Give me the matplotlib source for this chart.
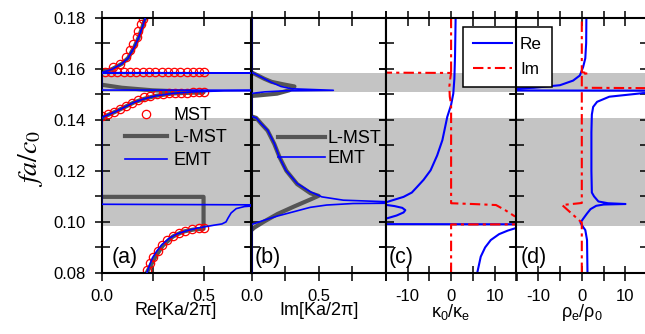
import numpy as np
import matplotlib
matplotlib.use('Agg')
import matplotlib.pyplot as plt
from matplotlib.lines import Line2D
from matplotlib.ticker import MultipleLocator, FuncFormatter

plt.rcParams['font.family'] = ['Liberation Sans', 'DejaVu Sans']
plt.rcParams['mathtext.fontset'] = 'stix'

NaN = np.nan

# ---------------- data ----------------
gap_bands = [(0.0985, 0.1405), (0.1507, 0.1581)]

# (a) Re[Ka/2pi]
a_mst_re = [0.221, 0.238, 0.254, 0.276, 0.295, 0.320, 0.348, 0.378, 0.411, 0.444, 0.477, 0.502,
            0.0, 0.03, 0.06, 0.09, 0.12, 0.15, 0.18, 0.21, 0.24, 0.27, 0.30, 0.33, 0.36, 0.39, 0.42, 0.45, 0.48, 0.50,
            0.015, 0.046, 0.077, 0.108, 0.139, 0.170, 0.201, 0.232, 0.263, 0.294, 0.325, 0.356, 0.387, 0.418, 0.449, 0.480, 0.502,
            0.056, 0.089, 0.122, 0.139, 0.155, 0.172, 0.180, 0.193, 0.204]
a_mst_f = [0.0812, 0.0840, 0.0864, 0.0886, 0.0909, 0.0929, 0.0945, 0.0957, 0.0966, 0.0972, 0.0975, 0.0977,
           0.1413, 0.1422, 0.1432, 0.1442, 0.1455, 0.1467, 0.1478, 0.1487, 0.1494, 0.1499, 0.1502, 0.1504, 0.1505, 0.1506, 0.1506, 0.1507, 0.1507, 0.1507,
           0.1587, 0.1587, 0.1587, 0.1587, 0.1587, 0.1587, 0.1587, 0.1587, 0.1587, 0.1587, 0.1587, 0.1587, 0.1587, 0.1587, 0.1587, 0.1587, 0.1587,
           0.1606, 0.1619, 0.1645, 0.1671, 0.1697, 0.1723, 0.1749, 0.1775, 0.1795]

a_lmst_re = [0.221, 0.26, 0.30, 0.35, 0.40, 0.45, 0.50, 0.50, 0.0, NaN, 0.0, 0.03, 0.07, 0.12, 0.16, 0.21, 0.27, 0.35, 0.45, 0.50,
             0.25, 0.10, 0.0, NaN, 0.0, 0.05, 0.10, 0.13, 0.16, 0.18, 0.20, 0.215]
a_lmst_f = [0.080, 0.0858, 0.0907, 0.0943, 0.0962, 0.0970, 0.0973, 0.1098, 0.1098, NaN, 0.1405, 0.1418, 0.1432, 0.1452, 0.1468, 0.1482, 0.1494, 0.1503, 0.1506, 0.1507,
            0.1515, 0.1525, 0.1537, NaN, 0.1585, 0.1597, 0.1619, 0.1641, 0.1683, 0.1718, 0.1762, 0.1800]

a_emt_re = [0.222, 0.235, 0.25, 0.27, 0.295, 0.33, 0.37, 0.42, 0.47, 0.50, 0.55, 0.59, 0.61, 0.62, 0.635, 0.66, 0.70, 0.75, 1.0,
            0.0, 0.0, 0.01, 0.03, 0.07, 0.12, 0.16, 0.21, 0.27, 0.35, 0.45, 0.60, 1.0,
            0.0, 0.0, 1.0, 0.0, 0.05, 0.10, 0.13, 0.16, 0.18, 0.20, 0.215]
a_emt_f = [0.080, 0.083, 0.086, 0.0885, 0.091, 0.0935, 0.0953, 0.0966, 0.0976, 0.0980, 0.0987, 0.0992, 0.1000, 0.1015, 0.1035, 0.1052, 0.1060, 0.1063, 0.1066,
           0.1069, 0.1405, 0.1412, 0.1418, 0.1432, 0.1452, 0.1468, 0.1482, 0.1494, 0.1503, 0.1509, 0.1513, 0.1515,
           0.1516, 0.1583, 0.1583, 0.1584, 0.1597, 0.1619, 0.1641, 0.1683, 0.1718, 0.1762, 0.1800]

# (b) Im[Ka/2pi]
b_emt_im = [0.0, 0.0, 0.03, 0.096, 0.194, 0.316, 0.438, 0.56, 0.757, 1.0, 1.3, NaN,
            1.3, 1.0, 0.684, 0.524, 0.438, 0.341, 0.256, 0.207, 0.17, 0.12, 0.071, 0.035, 0.0,
            0.0, 0.05, 0.10, 0.25, 0.61, 0.30, 0.22, 0.145, 0.071, 0.022, 0.0, 0.0]
b_emt_f = [0.080, 0.0990, 0.0995, 0.1007, 0.1023, 0.1040, 0.1057, 0.1066, 0.1072, 0.1073, 0.1074, NaN,
           0.1077, 0.1079, 0.1085, 0.1098, 0.1118, 0.1150, 0.1202, 0.1254, 0.1307, 0.1359, 0.1385, 0.1407, 0.1413,
           0.1503, 0.1506, 0.1509, 0.1513, 0.1515, 0.1521, 0.1530, 0.1547, 0.1567, 0.1580, 0.1585, 0.180]

b_lmst_im = [0.0, 0.022, 0.096, 0.194, 0.316, 0.44, 0.50, 0.44, 0.34, 0.26, 0.21, 0.17, 0.12, 0.071, 0.035, 0.0, NaN,
             0.0, 0.05, 0.19, 0.28, 0.32, 0.24, 0.15, 0.096, 0.04, 0.0]
b_lmst_f = [0.0968, 0.0978, 0.1002, 0.1031, 0.1060, 0.1088, 0.1102, 0.1112, 0.1148, 0.1200, 0.1252, 0.1305, 0.1357, 0.1385, 0.1407, 0.1413, NaN,
            0.1493, 0.1495, 0.1502, 0.1515, 0.1530, 0.1538, 0.1548, 0.1560, 0.1575, 0.1585]

# (c) kappa0/kappa_e
c_re_x = [6.0, 6.8, 7.8, 9.1, 11.0, 13.0, 14.7, 20, 40, -40, -20, -14.7, -12.5, -10.9, -10.5, -11.2, -13.0, -14.7, -20,
          -14.7, -12.8, -10.9, -9.0, -7.8, -6.3, -4.7, -3.2, -2.0, -0.88, 0.0, 0.5, 0.75, 0.9, 1.04]
c_re_f = [0.0801, 0.0864, 0.0900, 0.0929, 0.0952, 0.0966, 0.0975, 0.0985, 0.0990, 0.0992, 0.1000, 0.1014, 0.1025, 0.1037, 0.1046, 0.1055, 0.1062, 0.1066, 0.1072,
          0.1078, 0.1088, 0.1098, 0.1115, 0.1137, 0.1165, 0.1202, 0.1260, 0.1320, 0.1411, 0.1458, 0.1502, 0.1560, 0.1650, 0.1800]
c_im_x = [0.0, 0.0, 40, 20, 14.5, 12.5, 10.3, 5.0, 0.0, 0.0, -0.3, -0.4, -0.2, 0.0, -40, NaN, 0.0, 0.0]
c_im_f = [0.080, 0.0990, 0.0991, 0.1003, 0.1023, 0.1045, 0.1066, 0.1070, 0.1073, 0.1460, 0.1490, 0.1530, 0.1560, 0.1583, 0.1586, NaN, 0.1587, 0.180]

# (d) rho_e/rho0
d_re_x = [1.3, 1.2, 0.8, 0.3, -0.3, 0.3, 1.2, 2.0, 3.3, 5.0, 10.0, 6.0, 3.8, 2.8, 2.3, 2.2, 2.2, 2.3, 2.6, 3.5, 6.3, 14.0, 40,
          -40, -15, -11, -5, -2, -0.45, 0.3, 0.8, 1.0, 1.05]
d_re_f = [0.080, 0.0929, 0.0968, 0.0980, 0.0997, 0.1012, 0.1033, 0.1050, 0.1063, 0.1068, 0.1070, 0.1073, 0.1080, 0.1100, 0.1115, 0.1200, 0.1350, 0.1420, 0.1450, 0.1470, 0.1490, 0.1504, 0.1513,
          0.1515, 0.1522, 0.1525, 0.1535, 0.1553, 0.1573, 0.1606, 0.1640, 0.1700, 0.1800]
d_im_x = [0.0, 0.0, -4.5, 0.0, 0.0, NaN, 40, 0.0, 0.0, 1.5, 0.0, 0.0]
d_im_f = [0.080, 0.0997, 0.1066, 0.1074, 0.1512, NaN, 0.1521, 0.1525, 0.1578, 0.1582, 0.1586, 0.180]

# ---------------- style ----------------
BLUE = '#0000ff'
RED = '#ff0000'
DARK = '#555555'
BAND = '#c4c4c4'
DASHDOT = (0, (5, 2, 1.5, 2))

W, H = 645, 334
fig = plt.figure(figsize=(W / 100, H / 100), dpi=100)

def px_axes(x0, x1, y0=17.5, y1=273.0):
    return fig.add_axes([x0 / W, 1 - y1 / H, (x1 - x0) / W, (y1 - y0) / H])

ax_a = px_axes(101.5, 250.5)
ax_b = px_axes(251.5, 385.7)
ax_c = px_axes(385.7, 516.5)
ax_d = px_axes(516.3, 647.3)
axes = [ax_a, ax_b, ax_c, ax_d]

ylab_fmt = FuncFormatter(lambda v, p: ('%.2f' % v) if int(round(v * 100)) % 2 == 0 else '')
for ax in axes:
    ax.set_ylim(0.08, 0.18)
    for lo, hi in gap_bands:
        ax.axhspan(lo, hi, color=BAND, lw=0, zorder=0.5)
    ax.yaxis.set_major_locator(MultipleLocator(0.01))
    ax.tick_params(direction='inout', length=10.8, width=1.1, top=True, right=True,
                   labelsize=12, pad=6)
    for s in ax.spines.values():
        s.set_linewidth(1.5)
    if ax is ax_a:
        ax.yaxis.set_major_formatter(ylab_fmt)
    else:
        ax.tick_params(labelleft=False)

# panel a
ax_a.set_xlim(0, 0.73)
ax_a.xaxis.set_major_locator(MultipleLocator(0.25))
ax_a.xaxis.set_major_formatter(FuncFormatter(lambda v, p: ('%.1f' % v) if abs(v * 2 - round(v * 2)) < 1e-6 else ''))
ax_a.plot(a_lmst_re, a_lmst_f, color=DARK, lw=3.0, zorder=2, solid_capstyle='butt')
ax_a.plot(a_mst_re, a_mst_f, ls='none', marker='o', ms=6, mfc='none', mec=RED, mew=0.9, zorder=2.5)
ax_a.plot(a_emt_re, a_emt_f, color=BLUE, lw=1.2, zorder=3)

# panel b
ax_b.set_xlim(0, 1.0)
ax_b.xaxis.set_major_locator(MultipleLocator(0.25))
ax_b.xaxis.set_major_formatter(FuncFormatter(lambda v, p: ('%.1f' % v) if abs(v * 2 - round(v * 2)) < 1e-6 and v < 0.9 else ''))
ax_b.plot(b_lmst_im, b_lmst_f, color=DARK, lw=3.0, zorder=2)
ax_b.plot(b_emt_im, b_emt_f, color=BLUE, lw=1.2, zorder=3)

# panel c
int_fmt = FuncFormatter(lambda v, p: ('%d' % round(v)) if int(round(v)) % 10 == 0 else '')
ax_c.set_xlim(-15, 15)
ax_c.xaxis.set_major_locator(MultipleLocator(5))
ax_c.xaxis.set_major_formatter(int_fmt)
ax_c.plot(c_re_x, c_re_f, color=BLUE, lw=1.5, zorder=2)
ax_c.plot(c_im_x, c_im_f, color=RED, lw=1.5, ls=DASHDOT, zorder=2.1)

# panel d
ax_d.set_xlim(-15, 15)
ax_d.xaxis.set_major_locator(MultipleLocator(5))
ax_d.xaxis.set_major_formatter(int_fmt)
ax_d.plot(d_re_x, d_re_f, color=BLUE, lw=1.5, zorder=2)
ax_d.plot(d_im_x, d_im_f, color=RED, lw=1.5, ls=DASHDOT, zorder=2.1)

# labels
ax_a.set_ylabel('$fa/c_0$', fontsize=20)
ax_a.yaxis.set_label_coords(-0.38, 0.45)
ax_a.set_xlabel('Re[Ka/2π]', fontsize=13, labelpad=-1)
ax_b.set_xlabel('Im[Ka/2π]', fontsize=13, labelpad=-1)
ax_c.set_xlabel(r'$\mathregular{κ_0/κ_e}$', fontsize=13, labelpad=-1)
ax_d.set_xlabel(r'$\mathregular{ρ_e/ρ_0}$', fontsize=13, labelpad=-1)

for ax, lab, dx in [(ax_a, '(a)', 10), (ax_b, '(b)', 3.5), (ax_c, '(c)', 2.5), (ax_d, '(d)', 4)]:
    ax.annotate(lab, xy=(0, 0), xycoords='axes fraction', xytext=(dx * 0.72, 15 * 0.72),
                textcoords='offset points', ha='left', va='center', fontsize=15.5, zorder=6)

# legends
h_mst = Line2D([], [], ls='none', marker='o', ms=6, mfc='none', mec=RED, mew=0.9)
h_lmst = Line2D([], [], color=DARK, lw=3.0)
h_emt = Line2D([], [], color=BLUE, lw=1.2)
leg_a = ax_a.legend([h_mst, h_lmst, h_emt], ['MST', 'L-MST', 'EMT'], loc='upper left',
                    bbox_to_anchor=(125 / W, 1 - 107 / H), bbox_transform=fig.transFigure,
                    frameon=False, fontsize=13, borderpad=0, borderaxespad=0,
                    handlelength=2.33, handletextpad=0.33, labelspacing=0.3)
leg_b = ax_b.legend([h_lmst, h_emt], ['L-MST', 'EMT'], loc='upper left',
                    bbox_to_anchor=(278 / W, 1 - 130 / H), bbox_transform=fig.transFigure,
                    frameon=False, fontsize=13, borderpad=0, borderaxespad=0,
                    handlelength=2.6, handletextpad=0.12, labelspacing=0.17)

h_re = Line2D([], [], color=BLUE, lw=1.5)
h_im = Line2D([], [], color=RED, lw=1.5, ls=DASHDOT)
leg_d = ax_d.legend([h_re, h_im], ['Re', 'Im'], loc='upper left',
                    bbox_to_anchor=(463 / W, 1 - 27 / H), bbox_transform=fig.transFigure,
                    frameon=True, fancybox=False, fontsize=12.3, borderpad=0.58, borderaxespad=0,
                    handlelength=2.3, handletextpad=0.45, labelspacing=0.6)
leg_d.get_frame().set_edgecolor('black')
leg_d.get_frame().set_linewidth(1.1)
leg_d.get_frame().set_alpha(1)
leg_d.set_zorder(2.2)

fig.savefig('out.png', dpi=100, facecolor='white')
